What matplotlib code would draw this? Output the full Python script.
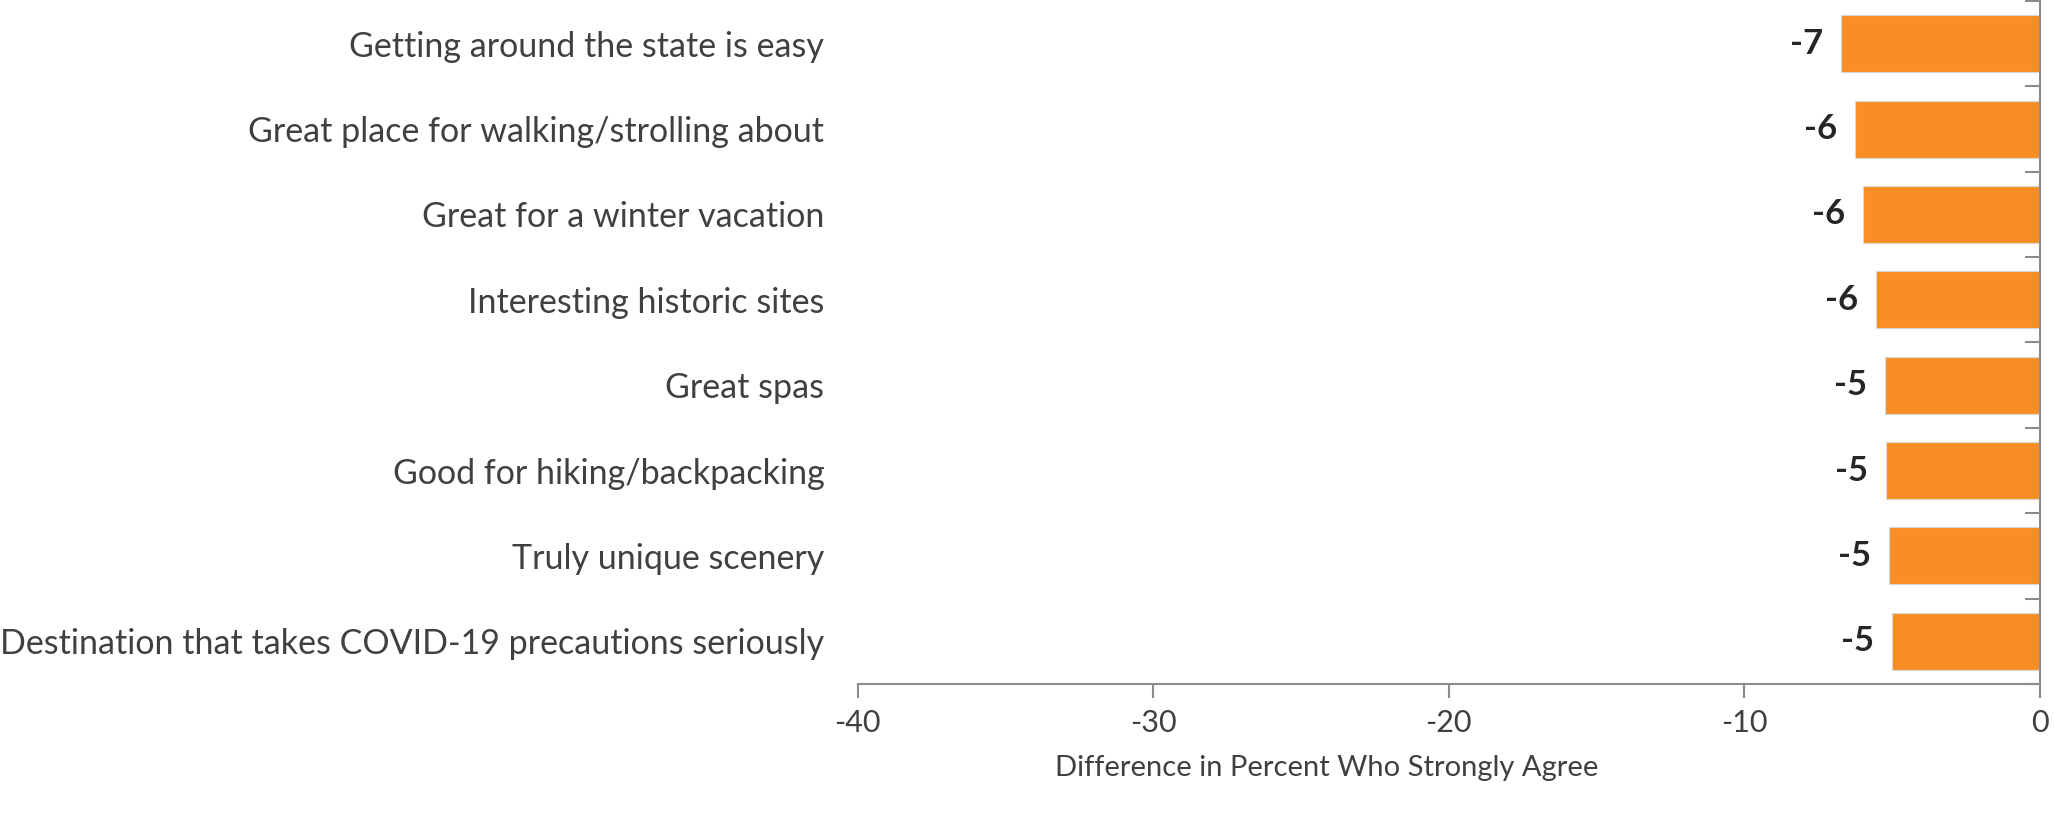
import matplotlib
matplotlib.use("Agg")
import matplotlib.pyplot as plt
import numpy as np

# data
categories = [
    "Getting around the state is easy",
    "Great place for walking/strolling about",
    "Great for a winter vacation",
    "Interesting historic sites",
    "Great spas",
    "Good for hiking/backpacking",
    "Truly unique scenery",
    "Destination that takes COVID-19 precautions seriously",
]
values = [-6.73, -6.25, -6.00, -5.56, -5.25, -5.21, -5.11, -5.01]
value_labels = ["-7", "-6", "-6", "-6", "-5", "-5", "-5", "-5"]
x_ticks = [-40, -30, -20, -10, 0]

plt.rcParams['font.family'] = ['Lato', 'DejaVu Sans']
text_color = '#404040'
axis_color = '#8c8c8c'

fig = plt.figure(figsize=(20.54, 8.18), dpi=100)
ax = fig.add_axes([857.7 / 2054, 1 - 684 / 818, (2040 - 857.7) / 2054, 683 / 818])

y = np.arange(len(categories))
ax.barh(y, values, height=0.667, color='#F98F24', edgecolor='#d9d9d9', linewidth=0.8, zorder=2)

# value labels just left of each bar
for yi, v, lab in zip(y, values, value_labels):
    ax.text(v - 0.6, yi, lab, ha='right', va='center', fontsize=25,
            fontweight='bold', color='#262626')

ax.set_xlim(-40, 0)
ax.set_ylim(len(categories) - 0.5, -0.5)
ax.set_xticks(x_ticks)
ax.set_xticklabels([str(t) for t in x_ticks], fontsize=22, color=text_color)
ax.set_yticks(y)
ax.set_yticklabels(categories, fontsize=24.5, color=text_color)
ax.set_yticks(np.arange(-0.5, len(categories)), minor=True)

ax.tick_params(axis='y', which='major', length=0, pad=24)
ax.tick_params(axis='y', which='minor', left=False, right=True, direction='in',
               length=11, width=1.5, color=axis_color)
ax.tick_params(axis='x', which='major', length=10, width=1.5, color=axis_color, pad=8)

for s in ['top', 'left']:
    ax.spines[s].set_visible(False)
for s in ['bottom', 'right']:
    ax.spines[s].set_color(axis_color)
    ax.spines[s].set_linewidth(1.5)

fig.text(1327 / 2054, 1 - 768 / 818, "Difference in Percent Who Strongly Agree",
         ha='center', va='center', fontsize=21, color=text_color)

fig.savefig("out.png", dpi=100)
